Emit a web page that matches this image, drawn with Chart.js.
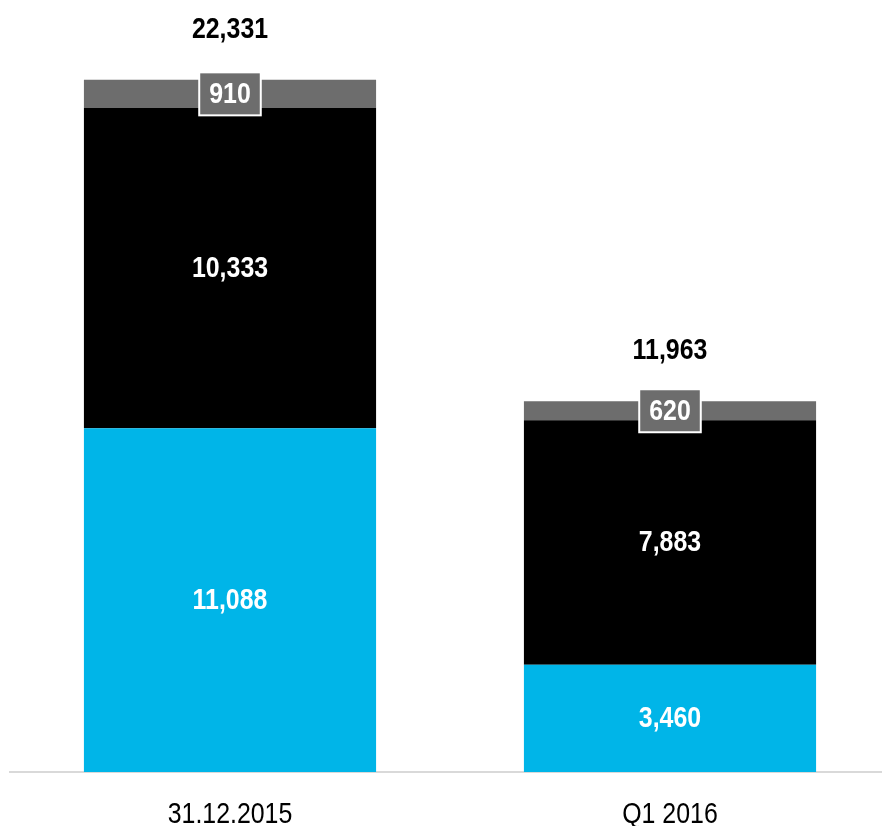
<!DOCTYPE html>
<html>
<head>
<meta charset="utf-8">
<script src="https://cdn.jsdelivr.net/npm/chart.js@4/dist/chart.umd.min.js"></script>
<style>
  html, body { margin: 0; padding: 0; background: #fff; overflow: hidden; }
  #wrap { width: 890px; height: 826px; position: relative; }
</style>
</head>
<body>
<div id="wrap"><canvas id="chart"></canvas></div>
<script>
const categories = ['31.12.2015', 'Q1 2016'];
const bottomPart = [11088, 3460];
const middlePart = [10333, 7883];
const topPart = [910, 620];
const totals = [22331, 11963];

// no Arial Narrow here, so squeeze Liberation Sans sideways
const FONT = '"Liberation Sans", Arial, sans-serif';
const SQUEEZE = 0.83;
const fmt = v => v.toLocaleString('en-US');

function narrowText(ctx, txt, x, y) {
  ctx.save();
  ctx.translate(x, y);
  ctx.scale(SQUEEZE, 1);
  ctx.fillText(txt, 0, 0);
  ctx.restore();
}

const labelPlugin = {
  id: 'labels',
  afterDraw(chart) {
    const ctx = chart.ctx;
    const y = chart.scales.y;
    const x = chart.scales.x;
    ctx.save();
    ctx.textAlign = 'center';
    ctx.textBaseline = 'middle';
    ctx.font = 'bold 30px ' + FONT;
    chart.data.datasets.forEach((ds, di) => {
      const meta = chart.getDatasetMeta(di);
      meta.data.forEach((bar, i) => {
        const cy = (bar.y + bar.base) / 2;
        const txt = fmt(ds.data[i]);
        if (di === 2) {
          const w = ctx.measureText(txt).width * SQUEEZE + 20;
          const h = 43;
          ctx.fillStyle = '#6d6d6d';
          ctx.fillRect(bar.x - w / 2, cy - h / 2, w, h);
          ctx.strokeStyle = '#ffffff';
          ctx.lineWidth = 2;
          ctx.strokeRect(bar.x - w / 2, cy - h / 2, w, h);
        }
        ctx.fillStyle = '#ffffff';
        narrowText(ctx, txt, bar.x, cy + 0.5);
      });
    });

    // totals above the stacks
    ctx.fillStyle = '#000000';
    ctx.textBaseline = 'alphabetic';
    totals.forEach((t, i) => {
      narrowText(ctx, fmt(t), x.getPixelForValue(i), y.getPixelForValue(t) - 42);
    });

    // category labels under the axis
    ctx.font = '30px ' + FONT;
    categories.forEach((c, i) => {
      narrowText(ctx, c, x.getPixelForValue(i), chart.chartArea.bottom + 51);
    });
    ctx.restore();
  }
};

new Chart(document.getElementById('chart'), {
  type: 'bar',
  data: {
    labels: categories,
    datasets: [
      { data: bottomPart, backgroundColor: '#00b5e8' },
      { data: middlePart, backgroundColor: '#000000' },
      { data: topPart, backgroundColor: '#6d6d6d' }
    ]
  },
  options: {
    responsive: true,
    maintainAspectRatio: false,
    animation: false,
    layout: { padding: { left: 10, right: 0, top: 28, bottom: 0 } },
    datasets: { bar: { barPercentage: 0.664, categoryPercentage: 1 } },
    plugins: { legend: { display: false }, tooltip: { enabled: false } },
    scales: {
      x: {
        stacked: true,
        grid: { display: false, drawTicks: false },
        border: { color: '#d9d9d9', width: 2 },
        ticks: { display: false },
        afterFit(scale) { scale.height = 54; }
      },
      y: {
        stacked: true,
        display: false,
        min: 0,
        max: 24000
      }
    }
  },
  plugins: [labelPlugin]
});
</script>
</body>
</html>
